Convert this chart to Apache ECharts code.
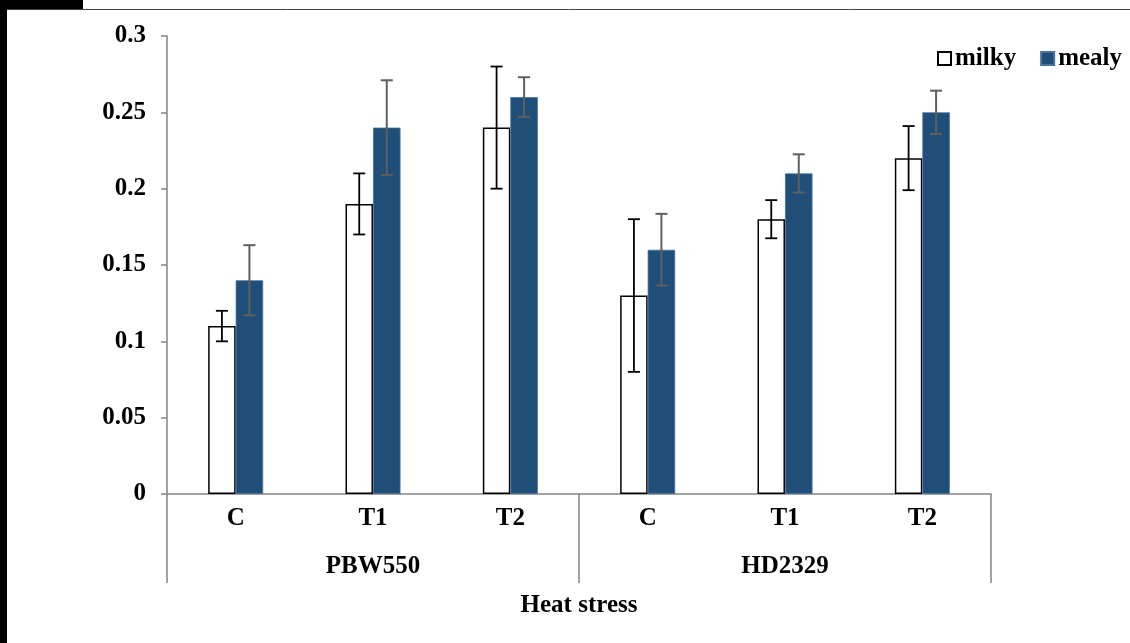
<!DOCTYPE html>
<html>
<head>
<meta charset="utf-8">
<script src="https://cdn.jsdelivr.net/npm/echarts@6/dist/echarts.min.js"></script>
<style>
  html, body { margin: 0; padding: 0; background: #fff; }
  #chart { width: 1130px; height: 643px; }
</style>
</head>
<body>
<div id="chart"></div>
<script>
// Treatments within each cultivar, and the cultivars themselves
const categories = ['C', 'T1', 'T2', 'C', 'T1', 'T2'];
const groups = ['PBW550', 'HD2329'];
const yTicks = [0, 0.05, 0.1, 0.15, 0.2, 0.25, 0.3];

// Mean values per stage
const milky = [0.11, 0.19, 0.24, 0.13, 0.18, 0.22];
const mealy = [0.14, 0.24, 0.26, 0.16, 0.21, 0.25];

// Half-widths of the error bars
const milkyErr = [0.01, 0.02, 0.04, 0.05, 0.0125, 0.021];
const mealyErr = [0.023, 0.031, 0.013, 0.0235, 0.0125, 0.0142];

const BAR_W = 27.5;
const FONT = '"Liberation Serif", "Times New Roman", serif';
const FS = 25;
const AXIS_GREY = '#858585';

const chart = echarts.init(document.getElementById('chart'));

function errorSeries(name, values, errs, side, color, width) {
  return {
    name: name,
    type: 'custom',
    z: 5,
    silent: true,
    data: values.map((v, i) => [i, v, errs[i]]),
    renderItem: function (params, api) {
      const i = api.value(0), v = api.value(1), e = api.value(2);
      const hi = api.coord([i, v + e]);
      const lo = api.coord([i, v - e]);
      const x = hi[0] + side * BAR_W / 2;
      const cap = 6;
      const style = { stroke: color, lineWidth: width };
      return {
        type: 'group',
        children: [
          { type: 'line', shape: { x1: x, y1: hi[1], x2: x, y2: lo[1] }, style: style },
          { type: 'line', shape: { x1: x - cap, y1: hi[1], x2: x + cap, y2: hi[1] }, style: style },
          { type: 'line', shape: { x1: x - cap, y1: lo[1], x2: x + cap, y2: lo[1] }, style: style }
        ]
      };
    }
  };
}

const labelStyle = { fontFamily: FONT, fontWeight: 'bold', fontSize: FS, color: '#000' };

chart.setOption({
  animation: false,
  backgroundColor: '#fff',
  textStyle: { fontFamily: FONT },
  graphic: [
    { type: 'rect', shape: { x: 0, y: 0, width: 7, height: 643 }, style: { fill: '#000' } },
    { type: 'rect', shape: { x: 0, y: 0, width: 83, height: 9 }, style: { fill: '#000' } },
    { type: 'line', shape: { x1: 7, y1: 9.5, x2: 1130, y2: 9.5 }, style: { stroke: '#444', lineWidth: 1 } }
  ],
  legend: {
    data: ['milky', 'mealy'],
    icon: 'rect',
    right: 3,
    top: 41,
    itemWidth: 13,
    itemHeight: 13,
    itemGap: 24,
    textStyle: Object.assign({ padding: [0, 0, 0, -1] }, labelStyle)
  },
  grid: { left: 167, right: 139, top: 36, bottom: 149 },
  xAxis: [
    {
      type: 'category',
      data: categories,
      axisLine: { lineStyle: { color: AXIS_GREY, width: 1.5 } },
      axisTick: { show: false },
      axisLabel: Object.assign({ margin: 12 }, labelStyle),
      name: 'Heat stress',
      nameLocation: 'middle',
      nameGap: 99,
      nameTextStyle: labelStyle
    },
    {
      type: 'category',
      data: groups,
      position: 'bottom',
      boundaryGap: true,
      axisLine: { show: false },
      axisTick: { show: true, length: 89, lineStyle: { color: AXIS_GREY, width: 1.5 } },
      axisLabel: Object.assign({ margin: 60 }, labelStyle)
    }
  ],
  yAxis: {
    type: 'value',
    min: 0,
    max: 0.3,
    interval: 0.05,
    axisLine: { show: true, lineStyle: { color: AXIS_GREY, width: 1.5 } },
    axisTick: { show: true, length: 6, lineStyle: { color: AXIS_GREY, width: 1.5 } },
    splitLine: { show: false },
    axisLabel: Object.assign({
      margin: 21,
      padding: [3, 0, 0, 0],
      formatter: v => yTicks.includes(+v.toFixed(2)) ? String(+v.toFixed(2)) : ''
    }, labelStyle)
  },
  series: [
    {
      name: 'milky',
      type: 'bar',
      data: milky,
      barWidth: BAR_W,
      barGap: '0%',
      itemStyle: { color: '#fff', borderColor: '#000', borderWidth: 1.5 }
    },
    {
      name: 'mealy',
      type: 'bar',
      data: mealy,
      barWidth: BAR_W,
      barGap: '0%',
      itemStyle: { color: '#1F4E79', borderColor: '#4a739a', borderWidth: 0.8 }
    },
    errorSeries('milkyErr', milky, milkyErr, -1, '#000', 1.8),
    errorSeries('mealyErr', mealy, mealyErr, 1, '#5f5f5f', 2)
  ]
});
</script>
</body>
</html>
